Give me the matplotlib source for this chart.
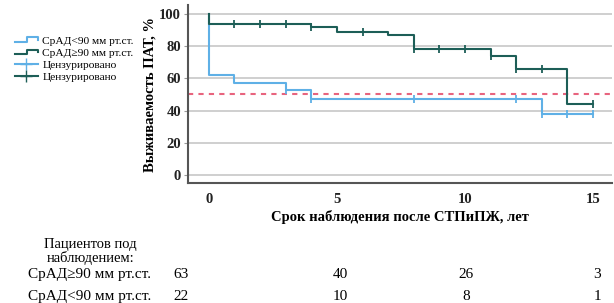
import numpy as np
import matplotlib
matplotlib.use("Agg")
import matplotlib.pyplot as plt
from matplotlib.lines import Line2D
from matplotlib.legend_handler import HandlerBase

plt.rcParams['font.family'] = ['Liberation Serif', 'DejaVu Serif']

# данные кривых Каплана-Мейера
high_t = [0, 0, 4, 5, 7, 8, 11, 12, 14, 15]
high_s = [100, 94, 92, 89, 87, 78, 74, 66, 44, 44]
high_cens = [1, 2, 3, 4, 6, 8, 9, 10, 11, 12, 13, 15]

low_t = [0, 0, 1, 3, 4, 13, 15]
low_s = [100, 62, 57, 53, 47.5, 38, 38]
low_cens = [3, 4, 8, 12, 13, 14, 15]

median_line = 50

risk_times = [0, 5, 10, 15]
risk_high = [63, 40, 26, 3]
risk_low = [22, 10, 8, 1]
risk_labels = ["СрАД≥90 мм рт.ст.", "СрАД<90 мм рт.ст."]

blue = '#5fb0e6'
green = '#1d5e57'


def step_value(t, s, x):
    i = np.searchsorted(t, x, side='right') - 1
    return s[i]


class StepHandler(HandlerBase):
    def create_artists(self, legend, orig_handle, xdescent, ydescent,
                       width, height, fontsize, trans):
        x0 = -xdescent
        y0 = -ydescent
        xs = [x0, x0 + width * 0.55, x0 + width * 0.55, x0 + width, x0 + width]
        ys = [y0 + height * 0.2, y0 + height * 0.2, y0 + height * 0.8,
              y0 + height * 0.8, y0 + height * 0.45]
        ln = Line2D(xs, ys, color=orig_handle.get_color(), lw=1.5)
        ln.set_transform(trans)
        return [ln]


fig = plt.figure(figsize=(6.14, 3.03), dpi=100)
ax = fig.add_axes([0.306, 0.396, 0.691, 0.587])

ax.axhline(median_line, color='#e8647e', lw=1.5, ls=(0, (2.5, 2.5)), zorder=2)

ax.plot(low_t, low_s, drawstyle='steps-post', color=blue, lw=1.5, zorder=3)
ax.plot(high_t, high_s, drawstyle='steps-post', color=green, lw=1.5, zorder=4)

low_cy = [step_value(np.array(low_t), low_s, c) for c in low_cens]
high_cy = [step_value(np.array(high_t), high_s, c) for c in high_cens]
ax.plot(low_cens, low_cy, ls='none', marker='|', ms=6, mew=1.3, color=blue, zorder=3)
ax.plot(high_cens, high_cy, ls='none', marker='|', ms=6, mew=1.3, color=green, zorder=4)

ax.set_xlim(-0.82, 15.75)
ax.set_ylim(-5, 105.5)
ax.set_yticks([0, 20, 40, 60, 80, 100])
ax.set_xticks([0, 5, 10, 15])
ax.yaxis.grid(True, color='#cccccc', lw=1.3)
ax.set_axisbelow(True)
for s in ['top', 'right']:
    ax.spines[s].set_visible(False)
for s in ['left', 'bottom']:
    ax.spines[s].set_color('#555555')
    ax.spines[s].set_linewidth(1.5)
ax.tick_params(axis='y', length=3, color='#999999', labelsize=10.5, pad=2)
ax.tick_params(axis='x', length=0, labelsize=10.5, pad=7)
for lab in ax.get_xticklabels() + ax.get_yticklabels():
    lab.set_fontweight('bold')
    lab.set_color('#222222')

ax.set_ylabel('Выживаемость ПАТ, %', fontsize=10.5, fontweight='bold', labelpad=2)
ax.set_xlabel('Срок наблюдения после СТПиПЖ, лет', fontsize=10.5, fontweight='bold', labelpad=3)

h1 = Line2D([], [], color=blue)
h2 = Line2D([], [], color=green)
h3 = Line2D([], [], color=blue, marker='+', ms=8, lw=1.5)
h4 = Line2D([], [], color=green, marker='+', ms=8, lw=1.5)
fig.legend([h1, h2, h3, h4],
           ['СрАД<90 мм рт.ст.', 'СрАД≥90 мм рт.ст.', 'Цензурировано', 'Цензурировано'],
           handler_map={h1: StepHandler(), h2: StepHandler()},
           loc='upper left', bbox_to_anchor=(0.015, 0.9), frameon=False,
           fontsize=8.2, handlelength=2.0, handletextpad=0.4, labelspacing=0.22,
           handleheight=0.6, borderpad=0)

# таблица числа пациентов под наблюдением
fig.text(0.147, 0.17, 'Пациентов под\nнаблюдением:', ha='center', va='center',
         fontsize=10.5, linespacing=1.05)
row_y = [0.095, 0.022]
risk_x = [0.295, 0.554, 0.759, 0.973]
for lab, vals, y in zip(risk_labels, [risk_high, risk_low], row_y):
    fig.text(0.045, y, lab, ha='left', va='center', fontsize=11)
    for v, x in zip(vals, risk_x):
        fig.text(x, y, str(v), ha='center', va='center', fontsize=11)

fig.savefig('out.png', dpi=100)
